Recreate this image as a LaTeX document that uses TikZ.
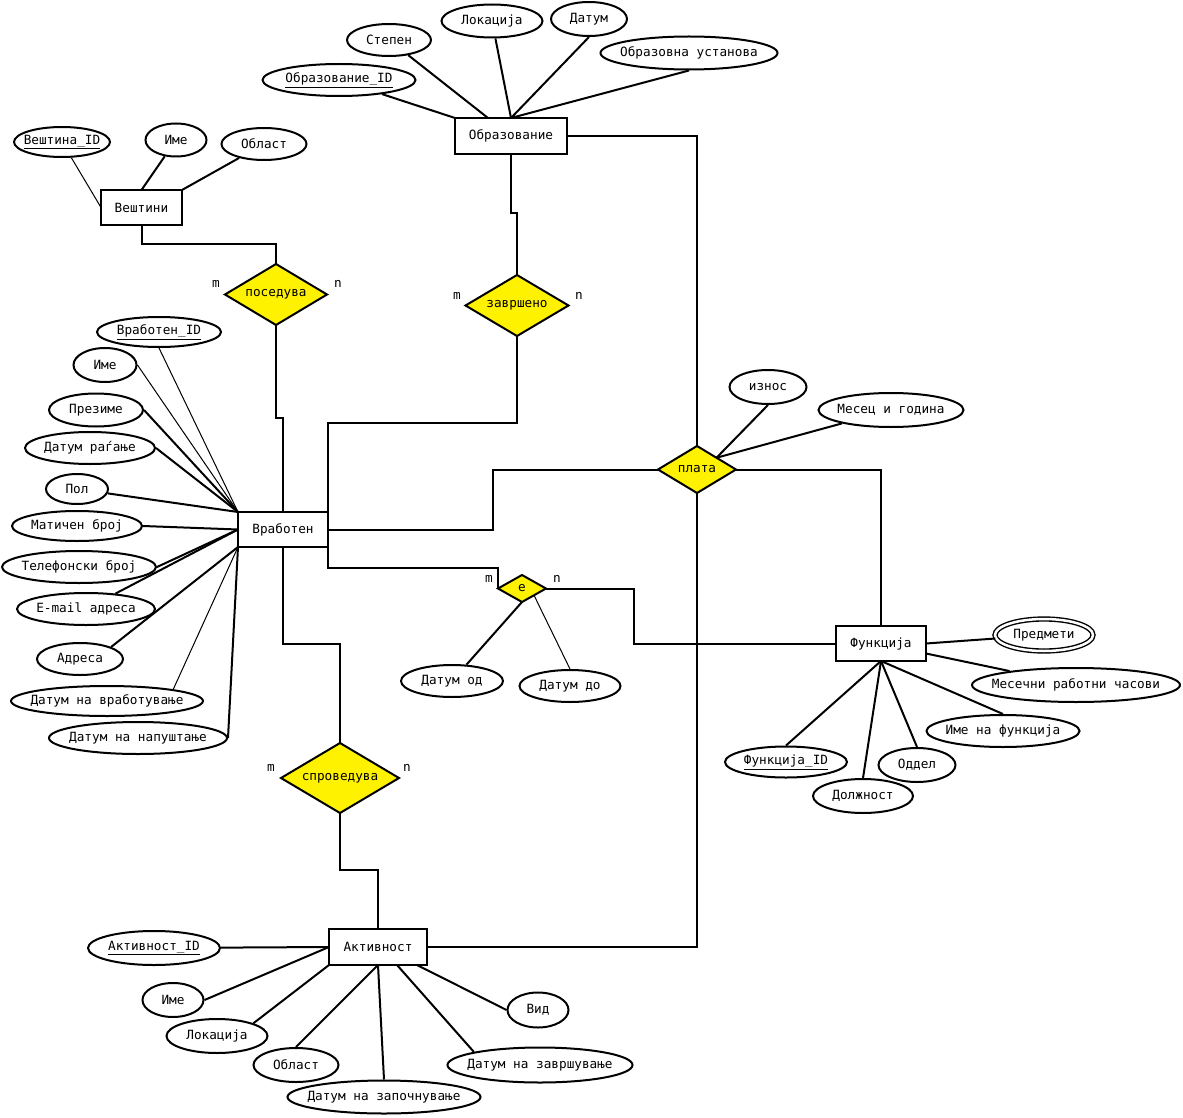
\documentclass[tikz,border=0pt]{standalone}
\usepackage{fontspec}
\newfontfamily\ermono{DejaVu Sans Mono}
\usetikzlibrary{shapes.geometric}
\newcommand\zw[1]{\makebox[0pt]{#1}}
\begin{document}
\begin{tikzpicture}[x=1pt,y=-1pt,
  every node/.style={font=\ermono\fontsize{12.7}{14}\selectfont},
  ent/.style={draw, line width=2pt, rectangle, inner sep=0pt, outer sep=0pt},
  rel/.style={draw, line width=2pt, diamond, fill=yellow, inner sep=0pt, outer sep=0pt},
  attr/.style={draw, line width=2pt, ellipse, inner sep=0pt},
  sz/.style 2 args={minimum width=#1pt, minimum height=#2pt},
  conn/.style={line width=2pt},
  fine/.style={line width=1pt},
  card/.style={inner sep=0pt}
]
\fill[white] (0,0) rectangle (1183,1118);
\useasboundingbox (0,0) rectangle (1183,1118);

% entities
\node[ent, sz={81}{35}] (vesh) at (141.5,207.5) {Вештини};
\node[ent, sz={112}{36}] (obr) at (511,136) {Образование};
\node[ent, sz={90}{35}] (vr) at (283,529.5) {Вработен};
\node[ent, sz={90}{35}] (fn) at (881,643.5) {Функција};
\node[ent, sz={98}{36}] (akt) at (378,947) {Активност};

% relationships
\node[rel, sz={102}{61}] (pos) at (276,294.5) {\zw{поседува}};
\node[rel, sz={103}{61}] (zav) at (517,305.5) {\zw{завршено}};
\node[rel, sz={78}{47}] (plata) at (697,469.5) {\zw{плата}};
\node[rel, sz={48}{27}] (e) at (522,588.5) {\zw{\raisebox{-2pt}{е}}};
\node[rel, sz={118}{70}] (spr) at (340,778) {\zw{спроведува}};

% cardinalities
\node[card] (m1) at (216,284) {m};
\node[card] (n1) at (338,284) {n};
\node[card] (m2) at (457,296) {m};
\node[card] (n2) at (579,296) {n};
\node[card] (m3) at (489,579) {m};
\node[card] (n3) at (557,579) {n};
\node[card] (m4) at (271,768) {m};
\node[card] (n4) at (407,768) {n};

% attributes of Вештини
\node[attr, sz={96}{30}] (a1) at (62,142) {\zw{\underline{Вештина\_ID}}};
\node[attr, sz={61}{33}] (a2) at (176,140) {\zw{Име}};
\node[attr, sz={85}{32}] (a3) at (264,144) {\zw{Област}};

% attributes of Образование
\node[attr, sz={153}{32}] (b1) at (339,80) {\zw{\underline{Образование\_ID}}};
\node[attr, sz={84}{32}] (b2) at (389,40) {\zw{Степен}};
\node[attr, sz={101}{33}] (b3) at (492,21) {\zw{Локација}};
\node[attr, sz={76}{34}] (b4) at (589,19) {\zw{Датум}};
\node[attr, sz={177}{33}] (b5) at (689,53) {\zw{Образовна установа}};

% attributes of Вработен
\node[attr, sz={124}{30}] (c1) at (159,332) {\zw{\underline{Вработен\_ID}}};
\node[attr, sz={63}{34}] (c2) at (105,365) {\zw{Име}};
\node[attr, sz={94}{33}] (c3) at (96,410) {\zw{Презиме}};
\node[attr, sz={130}{32}] (c4) at (90,448) {\zw{Датум раѓање}};
\node[attr, sz={62}{30}] (c5) at (77,489) {\zw{Пол}};
\node[attr, sz={130}{30}] (c6) at (77,526) {\zw{Матичен број}};
\node[attr, sz={154}{32}] (c7) at (79,567) {\zw{Телефонски број}};
\node[attr, sz={138}{32}] (c8) at (86,609) {\zw{E-mail адреса}};
\node[attr, sz={86}{32}] (c9) at (80,659) {\zw{Адреса}};
\node[attr, sz={192}{30}] (c10) at (107,701) {\zw{Датум на вработување}};
\node[attr, sz={178}{32}] (c11) at (138,738) {\zw{Датум на напуштање}};

% attributes of плата
\node[attr, sz={77}{34}] (p1) at (768,387) {\zw{износ}};
\node[attr, sz={145}{34}] (p2) at (891,410) {\zw{Месец и година}};

% attributes of Функција
\node[attr, sz={98}{32}, double, double distance=2.5pt, line width=1.4pt] (f1) at (1044,635) {\zw{Предмети}};
\node[attr, sz={208}{34}] (f2) at (1076,685) {\zw{Месечни работни часови}};
\node[attr, sz={153}{32}] (f3) at (1003,731) {\zw{Име на функција}};
\node[attr, sz={77}{34}] (f4) at (917,765) {\zw{Оддел}};
\node[attr, sz={100}{34}] (f5) at (863,796) {\zw{Должност}};
\node[attr, sz={122}{31}] (f6) at (786,762) {\zw{\underline{Функција\_ID}}};

% attributes of е
\node[attr, sz={102}{32}] (e1) at (452,681) {\zw{Датум од}};
\node[attr, sz={101}{32}] (e2) at (570,686) {\zw{Датум до}};

% attributes of Активност
\node[attr, sz={132}{34}] (g1) at (154,948) {\zw{\underline{Активност\_ID}}};
\node[attr, sz={61}{34}] (g2) at (173,1000) {\zw{Име}};
\node[attr, sz={101}{34}] (g3) at (217,1036) {\zw{Локација}};
\node[attr, sz={85}{34}] (g4) at (296,1065) {\zw{Област}};
\node[attr, sz={193}{33}] (g5) at (384,1097) {\zw{Датум на започнување}};
\node[attr, sz={185}{35}] (g6) at (540,1065) {\zw{Датум на завршување}};
\node[attr, sz={61}{35}] (g7) at (538,1010) {\zw{Вид}};

% relationship connectors
\draw[conn] (vesh.south) -- (141.5,244) -- (276,244) -- (pos.north);
\draw[conn] (pos.south) -- (276,418) -- (283,418) -- (vr.north);
\draw[conn] (obr.south) -- (511,213) -- (517,213) -- (zav.north);
\draw[conn] (zav.south) -- (517,423) -- (328,423) -- (vr.north east);
\draw[conn] (vr.south east) -- (328,568) -- (498,568) -- (e.west);
\draw[conn] (vr.east) -- (493,529.5) -- (493,469.5) -- (plata.west);
\draw[conn] (plata.east) -- (881,469.5) -- (fn.north);
\draw[conn] (obr.east) -- (697,136) -- (plata.north);
\draw[conn] (plata.south) -- (697,947) -- (akt.east);
\draw[conn] (e.east) -- (634,588.5) -- (634,643.5) -- (fn.west);
\draw[conn] (vr.south) -- (283,644) -- (340,644) -- (spr.north);
\draw[conn] (spr.south) -- (340,870) -- (378,870) -- (akt.north);

% attribute connectors
\draw[fine] (a1) -- (vesh.west);
\draw[conn] (a2) -- (vesh.north);
\draw[conn] (a3) -- (vesh.north east);
\draw[conn] (b1) -- (obr.north west);
\draw[conn] (b2) -- ([xshift=-23pt]obr.north);
\draw[conn] (b3) -- (obr.north);
\draw[conn] (b4.south) -- (obr.north);
\draw[conn] (b5.south) -- (obr.north);
\draw[fine] (c1.south) -- (vr.north west);
\draw[fine] (c2.east) -- (vr.north west);
\draw[conn] (c3.east) -- (vr.north west);
\draw[conn] (c4.east) -- (vr.north west);
\draw[conn] (c5) -- (vr.north west);
\draw[conn] (c6.east) -- (vr.west);
\draw[conn] (c7.east) -- (vr.west);
\draw[conn] (c8) -- (vr.west);
\draw[conn] (c9.north east) -- (vr.south west);
\draw[fine] (c10.10) -- (vr.south west);
\draw[conn] (c11.east) -- (vr.south west);
\draw[conn] (p1.south) -- (plata.north east);
\draw[conn] (p2) -- (plata.north east);
\draw[conn] (f1) -- (fn.east);
\draw[conn] (f2) -- ([yshift=-10pt]fn.east);
\draw[conn] (f3.north) -- (fn.south);
\draw[conn] (f4.north) -- (fn.south);
\draw[conn] (f5.north) -- (fn.south);
\draw[conn] (f6.north) -- (fn.south);
\draw[conn] (e1) -- (e.south);
\draw[fine] (e2.north) -- (e.south east);
\draw[conn] (g1) -- (akt.west);
\draw[conn] (g2.east) -- (akt.west);
\draw[conn] (g3.north east) -- (akt.south west);
\draw[conn] (g4.north) -- (akt.south);
\draw[conn] (g5.north) -- (akt.south);
\draw[conn] (g6.north west) -- ([xshift=19pt]akt.south);
\draw[conn] (g7.west) -- ([xshift=39pt]akt.south);
\end{tikzpicture}
\end{document}
